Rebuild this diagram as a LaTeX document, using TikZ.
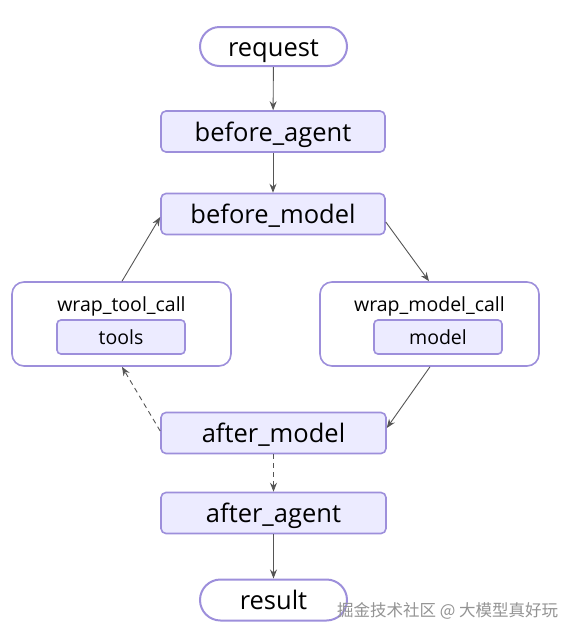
\documentclass[tikz,border=0pt]{standalone}
\usepackage{fontspec}
\setmainfont{Open Sans}
\newfontfamily\cjk{Noto Sans CJK SC}
\usetikzlibrary{arrows.meta}
\definecolor{mstroke}{HTML}{9D8FDB}
\definecolor{mfill}{HTML}{ECEBFF}
\definecolor{medge}{HTML}{555555}
\tikzset{
  x=1pt,y=-1pt,
  bigtext/.style={font=\fontsize{25.5}{28}\selectfont,text height=19pt,text depth=0pt},
  smalltext/.style={font=\fontsize{19.5}{22}\selectfont,text height=14pt,text depth=0pt},
  stadium/.style={bigtext,draw=mstroke,line width=2pt,fill=white,rounded corners=19.5pt,minimum width=147pt,minimum height=39pt,inner sep=0pt},
  stepbox/.style={bigtext,draw=mstroke,line width=1.6pt,fill=mfill,rounded corners=5pt,minimum width=224pt,minimum height=41pt,inner sep=0pt},
  wrapbox/.style={draw=mstroke,line width=1.6pt,fill=white,rounded corners=12pt,minimum width=219pt,minimum height=84pt,inner sep=0pt},
  innerbox/.style={smalltext,draw=mstroke,line width=1.6pt,fill=mfill,rounded corners=4pt,minimum width=128pt,minimum height=34pt,inner sep=0pt},
  wraplabel/.style={smalltext,inner sep=0pt},
  edge/.style={draw=medge,line width=0.9pt,-{Stealth[length=9pt,width=7pt,inset=3pt]}},
  dashedge/.style={edge,dashed,dash pattern=on 5pt off 4pt}
}
\begin{document}
\begin{tikzpicture}
\useasboundingbox (0,0) rectangle (579,641);
\node[stadium] (request) at (273.5,46.5) {request};
\node[stepbox] (bagent) at (273,131.5) {before\_agent};
\node[stepbox] (bmodel) at (273,214) {before\_model};
\node[wrapbox] (wtool) at (121.5,324) {};
\node[wraplabel] (wtoollab) at (121.5,304.5) {wrap\_tool\_call};
\node[innerbox] (tools) at (121,337) {tools};
\node[wrapbox] (wmodel) at (429.5,324) {};
\node[wraplabel] (wmodellab) at (429.5,304.5) {wrap\_model\_call};
\node[innerbox] (model) at (438,337) {model};
\node[stepbox,minimum width=225pt] (amodel) at (273.5,433) {after\_model};
\node[stepbox,minimum width=225pt] (aagent) at (273.5,513) {after\_agent};
\node[stadium,minimum height=41pt,rounded corners=20.5pt] (result) at (273.5,600) {result};
\node[font=\cjk\fontsize{16.5}{19}\selectfont,text=gray!85,anchor=west,inner sep=0pt] (wm) at (337,611) {掘金技术社区 @ 大模型真好玩};

\draw[edge] (request) -- (bagent);
\draw[edge] (bagent) -- (bmodel);
\draw[edge] (bmodel.east |- 0,222) -- (wmodel.north -| 429,0);
\draw[edge] (wmodel.south -| 430,0) -- (amodel.east |- 0,428);
\draw[dashedge] (amodel.west |- 0,431) -- (wtool.south -| 122,0);
\draw[edge] (wtool.north -| 122,0) -- (bmodel.west |- 0,217);
\draw[dashedge] (amodel) -- (aagent);
\draw[edge] (aagent) -- (result);
\end{tikzpicture}
\end{document}
